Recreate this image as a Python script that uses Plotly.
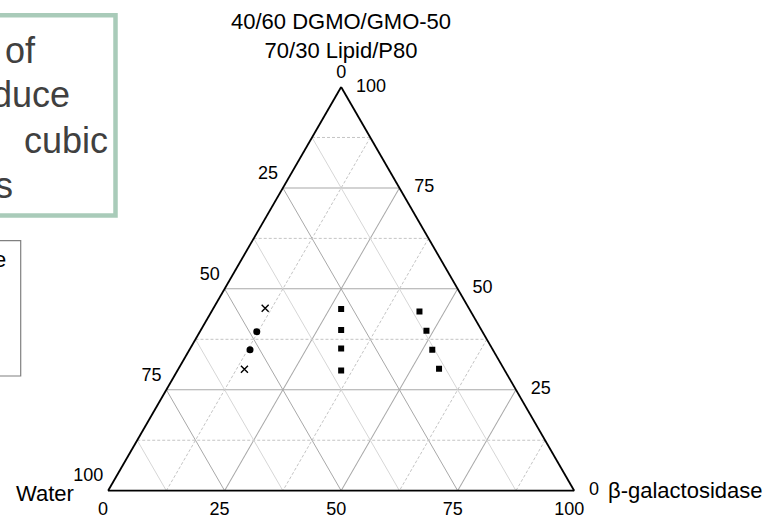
import plotly.graph_objects as go

# Compositions (wt%): lipid (top), water (bottom left), beta-galactosidase (bottom right)
cross_lipid = [45.2, 30.1]
cross_water = [43.7, 55.7]
cross_bgal = [11.1, 14.2]

circle_lipid = [39.4, 34.9]
circle_water = [48.4, 52.1]
circle_bgal = [12.2, 13.0]

square_lipid = [45.0, 39.8, 35.2, 29.8, 44.4, 39.6, 34.9, 30.2]
square_water = [27.5, 30.1, 32.4, 35.1, 11.0, 11.9, 13.0, 13.9]
square_bgal = [27.5, 30.1, 32.4, 35.1, 44.6, 48.5, 52.1, 55.9]

major_ticks = [0, 25, 50, 75, 100]
minor_ticks = [12.5, 37.5, 62.5, 87.5]

FONT = "Liberation Sans, Arial, sans-serif"
TICK_OUT = 1.5   # tick length in composition units
NBSP = "\u00a0"

fig = go.Figure()


def add_lines(a, b, c, color, width, dash="solid"):
    fig.add_trace(go.Scatterternary(
        a=a, b=b, c=c, mode="lines", cliponaxis=False,
        line=dict(color=color, width=width, dash=dash),
        hoverinfo="skip", showlegend=False))


# minor grid lines
ga, gb, gc = [], [], []          # constant lipid
wa, wb, wc = [], [], []          # constant water
ba, bb, bc = [], [], []          # constant beta-galactosidase
for v in minor_ticks:
    ga += [v, v, None]; gb += [100 - v, 0, None]; gc += [0, 100 - v, None]
    wa += [100 - v, 0, None]; wb += [v, v, None]; wc += [0, 100 - v, None]
    ba += [100 - v, 0, None]; bb += [0, 100 - v, None]; bc += [v, v, None]
add_lines(ga, gb, gc, "#c4c4c4", 1, "3px,2px")
add_lines(wa, wb, wc, "#d6d6d6", 1)
add_lines(ba, bb, bc, "#c4c4c4", 1, "3px,2px")

# tick marks on the three edges
ta, tb, tc = [], [], []
for v in sorted(major_ticks + minor_ticks):
    # water scale on the left edge
    ta += [100 - v, 100 - v + TICK_OUT, None]; tb += [v, v, None]; tc += [0, -TICK_OUT, None]
    # beta-galactosidase scale on the bottom edge
    ta += [0, -TICK_OUT, None]; tb += [100 - v, 100 - v + TICK_OUT, None]; tc += [v, v, None]
    # lipid scale on the right edge
    ta += [v, v, None]; tb += [0, -TICK_OUT, None]; tc += [100 - v, 100 - v + TICK_OUT, None]
add_lines(ta, tb, tc, "black", 1.5)

# tick labels
labels = [str(v) for v in major_ticks]
n = len(major_ticks)
tick_font = dict(family=FONT, size=18, color="black")
fig.add_trace(go.Scatterternary(  # water, left edge
    a=[100 - v for v in major_ticks], b=major_ticks, c=[0] * n,
    mode="markers+text", text=labels, cliponaxis=False,
    textposition=["top center"] + ["top left"] * (n - 1),
    marker=dict(size=6, color="rgba(0,0,0,0)"),
    textfont=tick_font, hoverinfo="skip", showlegend=False))
fig.add_trace(go.Scatterternary(  # beta-galactosidase, bottom edge (nudged toward the slanted ticks)
    a=[0] * n, b=[100 - v for v in major_ticks], c=major_ticks,
    mode="markers+text", text=[t + NBSP * 2 for t in labels], cliponaxis=False,
    textposition="bottom center",
    marker=dict(size=16, color="rgba(0,0,0,0)"),
    textfont=tick_font, hoverinfo="skip", showlegend=False))
fig.add_trace(go.Scatterternary(  # lipid, right edge
    a=major_ticks, b=[0] * n, c=[100 - v for v in major_ticks],
    mode="markers+text", text=labels, cliponaxis=False,
    textposition="middle right",
    marker=dict(size=22, color="rgba(0,0,0,0)"),
    textfont=tick_font, hoverinfo="skip", showlegend=False))

# samples
fig.add_trace(go.Scatterternary(
    a=cross_lipid, b=cross_water, c=cross_bgal, mode="markers",
    marker=dict(symbol="x-thin", size=7, line=dict(color="black", width=1.4)),
    showlegend=False))
fig.add_trace(go.Scatterternary(
    a=circle_lipid, b=circle_water, c=circle_bgal, mode="markers",
    marker=dict(symbol="circle", size=7, color="black"),
    showlegend=False))
fig.add_trace(go.Scatterternary(
    a=square_lipid, b=square_water, c=square_bgal, mode="markers",
    marker=dict(symbol="square", size=6, color="black"),
    showlegend=False))

axis_style = dict(
    min=0, tickmode="linear", tick0=0, dtick=25, ticks="",
    showticklabels=False, showgrid=True, gridcolor="#a8a8a8", gridwidth=1,
    showline=True, linecolor="black", linewidth=1.8, title=dict(text=""),
)

W, H = 779, 521
fig.update_layout(
    width=W, height=H,
    margin=dict(l=0, r=0, t=0, b=0),
    paper_bgcolor="white",
    ternary=dict(
        sum=100,
        bgcolor="white",
        domain=dict(x=[108 / W, 574.3 / W], y=[(H - 490.7) / H, (H - 87) / H]),
        aaxis=axis_style, baxis=axis_style, caxis=axis_style,
    ),
    font=dict(family=FONT, color="black"),
)

# axis titles
fig.add_annotation(
    text="40/60 DGMO/GMO-50<br>70/30 Lipid/P80", xref="paper", yref="paper",
    x=340.8 / W, y=(H - 35.5) / H, xanchor="center", yanchor="middle",
    showarrow=False, font=dict(family=FONT, size=22, color="black"))
fig.add_annotation(
    text="Water", xref="paper", yref="paper",
    x=76 / W, y=(H - 493.4) / H, xanchor="right", yanchor="middle",
    showarrow=False, font=dict(family=FONT, size=22, color="black"))
fig.add_annotation(
    text="β-galactosidase", xref="paper", yref="paper",
    x=605.5 / W, y=(H - 490) / H, xanchor="left", yanchor="middle",
    showarrow=False, font=dict(family=FONT, size=22, color="black"))

# slide callout box and legend frame at the left
fig.add_shape(type="rect", xref="paper", yref="paper",
              x0=-40 / W, x1=115.5 / W, y0=(H - 215.5) / H, y1=(H - 15.3) / H,
              line=dict(color="#a9cbb9", width=4.5), fillcolor="white", layer="below")
for word, x_right, y_mid in [("of", 38, 50), ("duce", 72, 95), ("cubic", 110, 140), ("s", 15, 185)]:
    fig.add_annotation(text=word, xref="paper", yref="paper",
                       x=x_right / W, y=(H - y_mid) / H, xanchor="right", yanchor="middle",
                       showarrow=False, font=dict(family=FONT, size=36, color="#404040"))
fig.add_shape(type="rect", xref="paper", yref="paper",
              x0=-40 / W, x1=20.7 / W, y0=(H - 376) / H, y1=(H - 240.7) / H,
              line=dict(color="#808080", width=1.2), fillcolor="white", layer="below")
fig.add_annotation(text="e", xref="paper", yref="paper",
                   x=8 / W, y=(H - 259) / H, xanchor="right", yanchor="middle",
                   showarrow=False, font=dict(family=FONT, size=22, color="black"))

fig.write_html("out.html")
